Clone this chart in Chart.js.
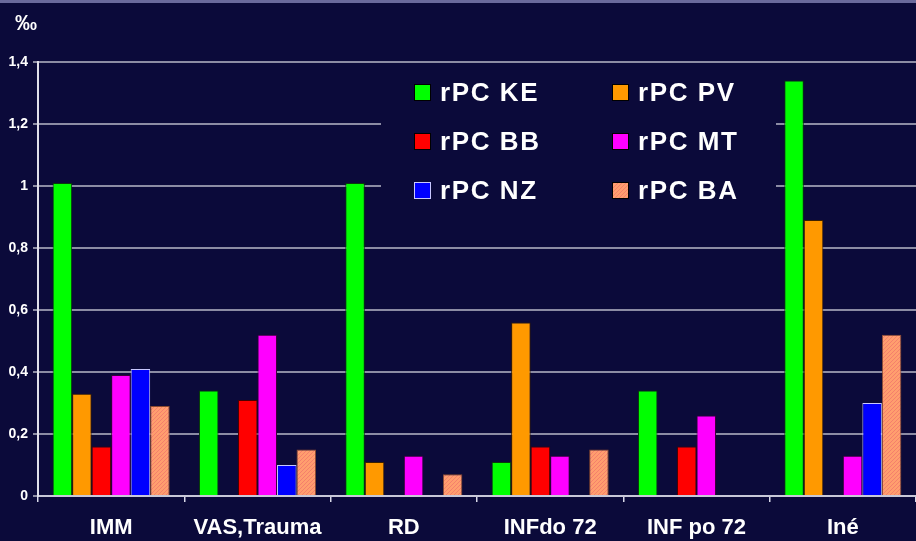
<!DOCTYPE html>
<html>
<head>
<meta charset="utf-8">
<script src="https://cdn.jsdelivr.net/npm/chart.js@4/dist/chart.umd.min.js"></script>
<style>
html,body{margin:0;padding:0;background:#0b0a3a;}
#wrap{position:relative;width:916px;height:541px;background:#0b0a3a;}
#topband{position:absolute;left:0;top:0;width:916px;height:3px;background:#6a6a9c;}
canvas{position:absolute;left:0;top:0;}
</style>
</head>
<body>
<div id="wrap">
<canvas id="c" width="916" height="541"></canvas>
<div id="topband"></div>
</div>
<script>
const categories = ["IMM", "VAS,Trauma", "RD", "INFdo 72", "INF po 72", "Iné"];
const seriesNames = ["rPC KE", "rPC PV", "rPC BB", "rPC MT", "rPC NZ", "rPC BA"];
const valuesKE = [1.01, 0.34, 1.01, 0.11, 0.34, 1.34];
const valuesPV = [0.33, 0, 0.11, 0.56, 0, 0.89];
const valuesBB = [0.16, 0.31, 0, 0.16, 0.16, 0];
const valuesMT = [0.39, 0.52, 0.13, 0.13, 0.26, 0.13];
const valuesNZ = [0.41, 0.10, 0, 0, 0, 0.30];
const valuesBA = [0.29, 0.15, 0.07, 0.15, 0, 0.52];
const yTicks = [0, 0.2, 0.4, 0.6, 0.8, 1, 1.2, 1.4];
const unitLabel = "‰";

function makePattern(){
  const p = document.createElement('canvas');
  p.width = 4; p.height = 4;
  const g = p.getContext('2d');
  g.fillStyle = '#ff9e6e'; g.fillRect(0,0,4,4);
  g.fillStyle = '#f47f6c';
  g.fillRect(0,0,1,1); g.fillRect(2,2,1,1); g.fillRect(1,3,1,1); g.fillRect(3,1,1,1);
  return document.getElementById('c').getContext('2d').createPattern(p,'repeat');
}
const baPattern = makePattern();

const fills = ['#00ff00', '#ff9900', '#ff0000', '#ff00ff', '#0000ff', baPattern];
const borders = ['#0a3a0a', '#3a2000', '#4a0000', '#3a003a', '#c8c8ff', '#8a4a30'];
const allValues = [valuesKE, valuesPV, valuesBB, valuesMT, valuesNZ, valuesBA];

const datasets = seriesNames.map((n,i)=>({
  label: n,
  data: allValues[i],
  backgroundColor: fills[i],
  borderColor: borders[i],
  borderWidth: 1,
  borderSkipped: 'bottom'
}));

const FONT = 'Arial, "Liberation Sans", sans-serif';

const legendPlugin = {
  id: 'customLegend',
  afterDraw(chart){
    const ctx = chart.ctx;
    ctx.save();
    ctx.fillStyle = '#0b0a3a';
    ctx.fillRect(381, 68, 395, 146);
    const colX = [414, 612];
    const rowY = [92, 141, 190];
    ctx.font = 'bold 26px ' + FONT;
    ctx.letterSpacing = '1.6px';
    ctx.textBaseline = 'alphabetic';
    chart.data.datasets.forEach((ds,i)=>{
      const x = colX[i%2], y = rowY[Math.floor(i/2)];
      ctx.fillStyle = fills[i];
      ctx.fillRect(x, y-8, 17, 17);
      ctx.strokeStyle = i===4 ? '#c8c8ff' : '#000000';
      ctx.lineWidth = 1;
      ctx.strokeRect(x+0.5, y-7.5, 16, 16);
      ctx.fillStyle = '#ffffff';
      ctx.fillText(ds.label, x+26, y+9);
    });
    ctx.letterSpacing = '0px';
    ctx.font = 'bold 22px ' + FONT;
    ctx.fillStyle = '#ffffff';
    ctx.fillText(unitLabel, 15, 30);
    ctx.restore();
  }
};

new Chart(document.getElementById('c'), {
  type: 'bar',
  data: { labels: categories, datasets },
  options: {
    responsive: false,
    animation: false,
    devicePixelRatio: 1,
    layout: { padding: { top: 62, right: 0, left: 0, bottom: 0 } },
    plugins: { legend: { display: false }, tooltip: { enabled: false } },
    datasets: { bar: { categoryPercentage: 0.8, barPercentage: 1.0 } },
    scales: {
      x: {
        grid: { display: true, offset: true, drawOnChartArea: false, drawTicks: true, tickLength: 6, color: '#d8d8e8', lineWidth: 1.5 },
        border: { display: true, color: '#c8c8d8', width: 2 },
        ticks: { color: '#ffffff', font: { family: FONT, size: 22, weight: 'bold' }, padding: 13 },
        afterFit(s){ s.height = 45; }
      },
      y: {
        min: 0, max: 1.4,
        afterBuildTicks(s){ s.ticks = yTicks.map(v=>({value:v})); },
        grid: { color: '#8c8ca4', lineWidth: 2, drawTicks: true, tickLength: 5 },
        border: { display: true, color: '#e0e0ea', width: 2 },
        ticks: {
          color: '#ffffff', padding: 5,
          font: { family: FONT, size: 14, weight: 'bold' },
          callback: v => String(v).replace('.', ',')
        },
        afterFit(s){ s.width = 38; }
      }
    }
  },
  plugins: [legendPlugin]
});
</script>
</body>
</html>
